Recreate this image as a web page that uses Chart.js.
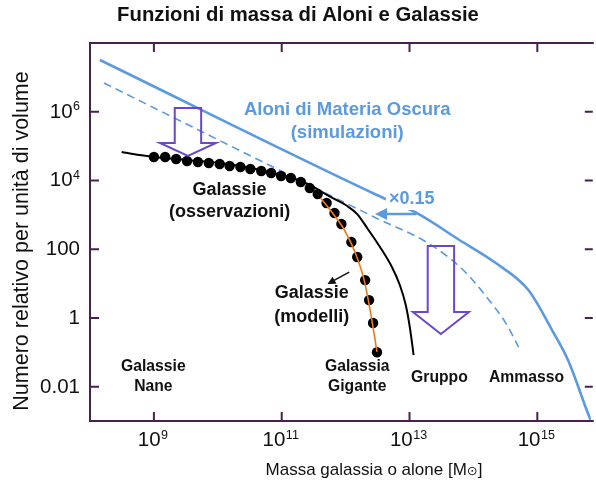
<!DOCTYPE html>
<html><head><meta charset="utf-8">
<script src="https://cdn.jsdelivr.net/npm/chart.js@4/dist/chart.umd.min.js"></script>
<style>html,body{margin:0;padding:0;background:#fff;}canvas{display:block;}</style>
</head><body>
<canvas id="c" width="596" height="488"></canvas>
<script>
const FONT = '"Liberation Sans", Arial, Helvetica, sans-serif';

// axis ticks
const xTickValues = [1e9, 1e11, 1e13, 1e15];
const xTickLabels = ['10⁹', '10¹¹', '10¹³', '10¹⁵'];
const yTickValues = [1e6, 1e4, 100, 1, 0.01];
const yTickLabels = ['10⁶', '10⁴', '100', '1', '0.01'];

// dark matter haloes (simulations), solid
const haloMass   = [1.43e8, 3.09e12, 1.29e13, 6.03e13, 2.24e14, 7.24e14, 1.70e15, 3.02e15, 6.17e15, 7.9e15];
const haloNumber = [3.20e7, 3.77e3, 1.13e3, 185, 39.5, 6.47, 0.444, 0.0594, 1.71e-3, 5.5e-4];
// haloes x0.15, dashed
const scaledMass   = [1.65e8, 2.79e12, 2.06e13, 6.92e13, 1.75e14, 3.21e14, 5.09e14];
const scaledNumber = [6.85e6, 863, 141, 24.7, 3.31, 0.710, 0.142];
// galaxies observed, black line
const obsLineMass   = [3.13e8, 5.94e8, 1.02e9, 3.30e9, 1.07e10, 3.35e10, 9.77e10, 1.99e11, 3.40e11, 5.81e11, 1.06e12, 1.52e12, 2.17e12, 3.45e12, 5.30e12, 7.05e12, 8.73e12, 1.01e13, 1.16e13];
const obsLineNumber = [6.73e4, 5.50e4, 4.81e4, 3.94e4, 3.22e4, 2.30e4, 1.44e4, 9.6e3, 6.0e3, 3.30e3, 1.80e3, 1.05e3, 413, 116, 30.3, 9.06, 2.37, 0.543, 0.083];
// galaxies, dots
const dotMass   = [1.00e9, 1.50e9, 2.23e9, 3.30e9, 4.88e9, 7.23e9, 1.07e10, 1.53e10, 2.26e10, 3.23e10, 4.79e10, 6.84e10, 9.77e10, 1.39e11, 1.99e11, 2.75e11, 3.66e11, 5.04e11, 6.70e11, 8.59e11, 1.23e12, 1.52e12, 2.02e12, 2.33e12, 2.69e12, 3.10e12];
const dotNumber = [4.81e4, 4.81e4, 4.21e4, 3.68e4, 3.44e4, 3.22e4, 3.01e4, 2.63e4, 2.46e4, 2.15e4, 1.88e4, 1.65e4, 1.35e4, 1.18e4, 9.0e3, 6.0e3, 4.0e3, 2.2e3, 1.13e3, 540, 161, 59, 12.6, 3.3, 0.71, 0.10];
// galaxy models, orange line
const modelMass   = [4.06e11, 6.24e11, 9.57e11, 1.42e12, 1.95e12, 2.42e12, 3.10e12];
const modelNumber = [3.08e3, 1.13e3, 361, 77.3, 12.6, 1.69, 0.102];

// annotation texts (anchored in data coordinates)
const labelTexts  = ['Aloni di Materia Oscura', '(simulazioni)', '×0.15', 'Galassie', '(osservazioni)', 'Galassie', '(modelli)', 'Galassia', 'Gigante', 'Gruppo', 'Ammasso', 'Galassie', 'Nane'];
const labelMass   = [1.06e12, 1.06e12, 1.08e13, 1.53e10, 1.53e10, 2.95e11, 2.95e11, 1.52e12, 1.52e12, 2.94e13, 6.78e14, 9.8e8, 9.8e8];
const labelNumber = [1.12e6, 2.40e5, 2.88e3, 5.27e3, 1.21e3, 5.30, 1.06, 0.0372, 9.73e-3, 0.0178, 0.0178, 0.0372, 9.73e-3];
const labelKind   = ['blue', 'blue', 'blueBox', 'big', 'big', 'big', 'big', 'small', 'small', 'small', 'smallBox', 'small', 'small'];

const BLUE = '#5b9ae0', PURPLE = '#6a48c8', FRAME = '#4a2050', ORANGE = '#f07a1a';
const labelStyles = {
  blue:     {font: 'bold 18.5px ' + FONT, color: BLUE, box: false},
  blueBox:  {font: 'bold 18px ' + FONT, color: BLUE, box: true},
  big:      {font: 'bold 18px ' + FONT, color: '#111', box: false},
  small:    {font: 'bold 15.7px ' + FONT, color: '#111', box: false},
  smallBox: {font: 'bold 15.7px ' + FONT, color: '#111', box: true}
};

const pts = (xs, ys) => xs.map((v, i) => ({x: v, y: ys[i]}));

// split "10⁶" into base "10" and exponent "6"
const SUP = '⁰¹²³⁴⁵⁶⁷⁸⁹';
function splitSup(s) {
  let base = '', exp = '';
  for (const ch of s) {
    const k = SUP.indexOf(ch);
    if (k >= 0) exp += String(k); else base += ch;
  }
  return {base, exp};
}
const BASE_FONT = '20.5px ' + FONT, EXP_FONT = '12.5px ' + FONT;
function labelWidth(ctx, p) {
  ctx.font = BASE_FONT; let w = ctx.measureText(p.base).width;
  if (p.exp) { ctx.font = EXP_FONT; w += ctx.measureText(p.exp).width + 0.5; }
  return w;
}
function drawSupLabel(ctx, p, xLeft, baseline) {
  ctx.textAlign = 'left'; ctx.textBaseline = 'alphabetic';
  ctx.font = BASE_FONT; ctx.fillText(p.base, xLeft, baseline);
  if (p.exp) {
    const bw = ctx.measureText(p.base).width;
    ctx.font = EXP_FONT; ctx.fillText(p.exp, xLeft + bw + 0.5, baseline - 7.5);
  }
}

const annotPlugin = {
  id: 'annot',
  afterDatasetsDraw(chart) {
    const {ctx, scales: {x, y}} = chart;
    const px = v => x.getPixelForValue(v), py = v => y.getPixelForValue(v);
    ctx.save();
    // hollow block arrows (purple)
    const blocks = [
      {m: 3.41e9, top: 1.28e6, base: 1.23e5, tip: 5.14e4},
      {m: 3.10e13, top: 124, base: 1.48, tip: 0.340}
    ];
    ctx.strokeStyle = PURPLE; ctx.lineWidth = 2; ctx.lineJoin = 'miter';
    blocks.forEach(b => {
      const cx = px(b.m), t = py(b.top), bs = py(b.base), tp = py(b.tip), hs = 13.2, hh = 28;
      ctx.beginPath();
      ctx.moveTo(cx - hs, t); ctx.lineTo(cx + hs, t); ctx.lineTo(cx + hs, bs); ctx.lineTo(cx + hh, bs);
      ctx.lineTo(cx, tp); ctx.lineTo(cx - hh, bs); ctx.lineTo(cx - hs, bs); ctx.closePath();
      ctx.stroke();
    });
    // labels
    ctx.textAlign = 'center'; ctx.textBaseline = 'middle';
    labelTexts.forEach((t, i) => {
      const st = labelStyles[labelKind[i]];
      ctx.font = st.font;
      const lx = px(labelMass[i]), ly = py(labelNumber[i]);
      if (st.box) {
        const w = ctx.measureText(t).width;
        ctx.fillStyle = '#fff';
        ctx.fillRect(lx - w / 2 - 3, ly - 11, w + 6, 22);
      }
      ctx.fillStyle = st.color;
      ctx.fillText(t, lx, ly);
    });
    // arrows
    const drawArrow = (x0, y0, x1, y1, color, lw, hl, hw) => {
      const ang = Math.atan2(y1 - y0, x1 - x0);
      ctx.strokeStyle = color; ctx.fillStyle = color; ctx.lineWidth = lw;
      ctx.beginPath(); ctx.moveTo(x0, y0);
      ctx.lineTo(x1 - Math.cos(ang) * hl * 0.8, y1 - Math.sin(ang) * hl * 0.8); ctx.stroke();
      ctx.beginPath(); ctx.moveTo(x1, y1);
      ctx.lineTo(x1 - Math.cos(ang) * hl + Math.sin(ang) * hw, y1 - Math.sin(ang) * hl - Math.cos(ang) * hw);
      ctx.lineTo(x1 - Math.cos(ang) * hl - Math.sin(ang) * hw, y1 - Math.sin(ang) * hl + Math.cos(ang) * hw);
      ctx.closePath(); ctx.fill();
    };
    drawArrow(px(1.29e13), py(1.05e3), px(2.89e12), py(1.05e3), BLUE, 2.5, 12, 6);
    drawArrow(px(1.14e12), py(21.6), px(5.21e11), py(9.68), '#111', 1.5, 8, 4);
    ctx.restore();
  },
  afterDraw(chart) {
    const {ctx, scales: {x, y}, chartArea: a} = chart;
    ctx.save();
    // frame with inward ticks
    ctx.strokeStyle = FRAME; ctx.lineWidth = 2;
    ctx.beginPath();
    ctx.moveTo(a.right + 3, a.top); ctx.lineTo(a.left, a.top); ctx.lineTo(a.left, a.bottom); ctx.lineTo(a.right + 3, a.bottom);
    ctx.stroke();
    const tl = 9;
    ctx.beginPath();
    xTickValues.forEach(v => {
      const p = x.getPixelForValue(v);
      ctx.moveTo(p, a.bottom); ctx.lineTo(p, a.bottom - tl);
      ctx.moveTo(p, a.top); ctx.lineTo(p, a.top + tl);
    });
    yTickValues.forEach(v => {
      const p = y.getPixelForValue(v);
      ctx.moveTo(a.left, p); ctx.lineTo(a.left + tl, p);
      ctx.moveTo(a.right + 2, p); ctx.lineTo(a.right - tl + 3, p);
    });
    ctx.stroke();
    // tick labels with superscript exponents
    ctx.fillStyle = '#111';
    xTickValues.forEach((v, i) => {
      const p = splitSup(xTickLabels[i]);
      const w = labelWidth(ctx, p);
      drawSupLabel(ctx, p, x.getPixelForValue(v) - w / 2 - 1, a.bottom + 25);
    });
    yTickValues.forEach((v, i) => {
      const p = splitSup(yTickLabels[i]);
      const w = labelWidth(ctx, p);
      drawSupLabel(ctx, p, a.left - 10 - w, y.getPixelForValue(v) + 6);
    });
    // axis titles
    ctx.textAlign = 'center'; ctx.textBaseline = 'middle';
    ctx.font = '17px ' + FONT;
    const t1 = 'Massa galassia o alone [M', t2 = '⊙', t3 = ']';
    const w1 = ctx.measureText(t1).width, w3 = ctx.measureText(t3).width;
    ctx.font = '13px DejaVu Sans'; const w2 = ctx.measureText(t2).width;
    const tw = w1 + w2 + w3, tx = a.left + 284 - tw / 2, ty = a.bottom + 49;
    ctx.textAlign = 'left';
    ctx.font = '17px ' + FONT; ctx.fillText(t1, tx, ty);
    ctx.font = '13px DejaVu Sans'; ctx.fillText(t2, tx + w1, ty + 2);
    ctx.font = '17px ' + FONT; ctx.fillText(t3, tx + w1 + w2, ty);
    ctx.textAlign = 'center';
    ctx.translate(a.left - 68, (a.top + a.bottom) / 2 + 9);
    ctx.rotate(-Math.PI / 2);
    ctx.font = '21.5px ' + FONT;
    ctx.fillText('Numero relativo per unità di volume', 0, 0);
    ctx.restore();
  }
};

new Chart(document.getElementById('c'), {
  type: 'line',
  data: {
    datasets: [
      {label: 'Galassie (modelli)', data: pts(modelMass, modelNumber), borderColor: ORANGE, borderWidth: 1.6, pointRadius: 0, cubicInterpolationMode: 'monotone', fill: false, clip: 0},
      {label: 'Galassie (punti)', data: pts(dotMass, dotNumber), showLine: false, pointRadius: 5.2, pointBackgroundColor: '#000', pointBorderWidth: 0, borderColor: '#000', clip: 0},
      {label: 'Galassie (osservazioni)', data: pts(obsLineMass, obsLineNumber), borderColor: '#000', borderWidth: 2, pointRadius: 0, cubicInterpolationMode: 'monotone', fill: false, clip: 0},
      {label: 'Aloni ×0.15', data: pts(scaledMass, scaledNumber), borderColor: BLUE, borderWidth: 1.6, borderDash: [8, 5], pointRadius: 0, cubicInterpolationMode: 'monotone', fill: false, clip: 0},
      {label: 'Aloni di Materia Oscura', data: pts(haloMass, haloNumber), borderColor: BLUE, borderWidth: 2.6, pointRadius: 0, cubicInterpolationMode: 'monotone', fill: false, clip: 0}
    ]
  },
  options: {
    responsive: false,
    animation: false,
    devicePixelRatio: 1,
    layout: {padding: {left: 0, right: 0, top: 0, bottom: 0}},
    plugins: {
      legend: {display: false},
      tooltip: {enabled: false},
      title: {display: true, text: 'Funzioni di massa di Aloni e Galassie', color: '#111',
        font: {family: FONT, size: 20.3, weight: 'bold', lineHeight: 1.2}, padding: {top: 3, bottom: 15.6}}
    },
    scales: {
      x: {
        type: 'logarithmic', min: 1e8, max: 6.87e15,
        grid: {display: false, drawTicks: false}, border: {display: false},
        afterBuildTicks: s => { s.ticks = xTickValues.map(v => ({value: v, major: true})); },
        afterFit: s => { s.height = 67; },
        ticks: {display: false, autoSkip: false, maxRotation: 0,
          callback: v => { const i = xTickValues.indexOf(v); return i >= 0 ? xTickLabels[i] : ''; }}
      },
      y: {
        type: 'logarithmic', min: 1e-3, max: 1e8,
        grid: {display: false, drawTicks: false}, border: {display: false},
        afterBuildTicks: s => { s.ticks = yTickValues.map(v => ({value: v, major: true})); },
        afterFit: s => { s.width = 90; },
        ticks: {display: false, autoSkip: false,
          callback: v => { const i = yTickValues.indexOf(v); return i >= 0 ? yTickLabels[i] : ''; }}
      }
    }
  },
  plugins: [annotPlugin]
});
</script>
</body></html>
